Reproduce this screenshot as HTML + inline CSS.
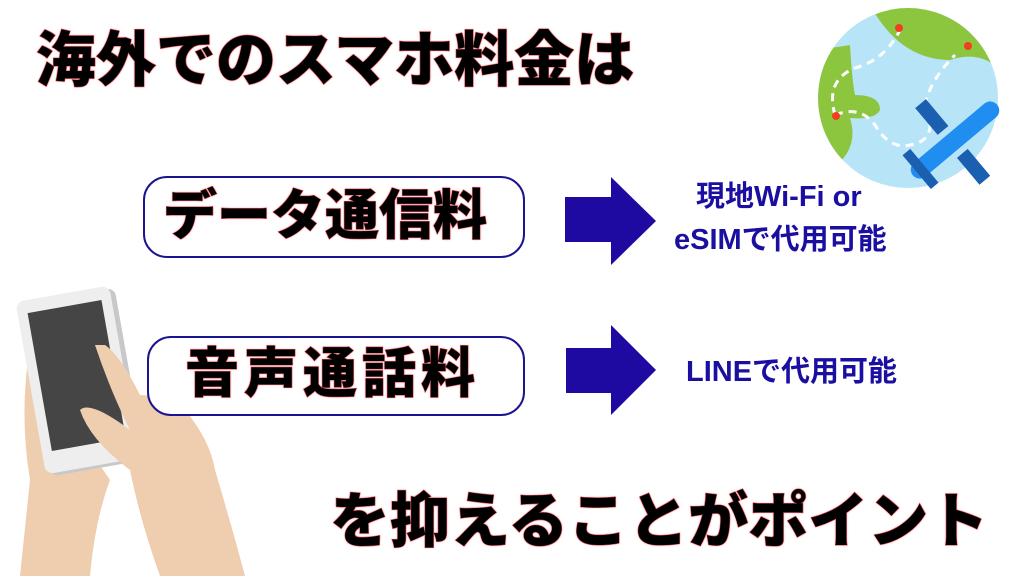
<!DOCTYPE html>
<html><head><meta charset="utf-8"><style>
body{margin:0;width:1024px;height:576px;background:#fff;position:relative;overflow:hidden;font-family:"Liberation Sans","Noto Sans CJK JP",sans-serif;}
.t{position:absolute;font-weight:900;color:#000;-webkit-text-stroke:1px #e03040;paint-order:stroke fill;text-shadow:0 0 2px #f08080;white-space:nowrap;}
.box{position:absolute;border:2px solid #1a1490;border-radius:24px;background:#fff;}
.b{position:absolute;color:#1a0fa0;font-weight:bold;font-size:29px;line-height:34px;white-space:nowrap;}
</style></head><body>
<div class="t" style="left:36px;top:26px;font-size:60px;line-height:70px;">海外でのスマホ料金は</div>
<svg style="position:absolute;left:0;top:0" width="1024" height="576">
<g>
<circle cx="908" cy="98" r="90" fill="#b8e4f8"/>
<clipPath id="c"><circle cx="908" cy="98" r="90"/></clipPath>
<g clip-path="url(#c)" fill="#8cc63f">
<path d="M870 5 Q900 60 950 60 Q980 50 1000 70 L1000 0 Z"/>
<path d="M818 50 L850 45 Q852 80 855 95 Q880 95 880 110 Q875 120 850 118 Q860 150 830 170 L818 170 Z"/>
</g>
<path d="M835 115 Q860 105 875 125 Q890 150 910 145 Q940 140 925 105 Q930 80 955 55" stroke="#fff" stroke-width="3" fill="none" stroke-dasharray="8 6"/>
<path d="M835 115 Q825 80 855 68 Q885 60 900 30" stroke="#fff" stroke-width="3" fill="none" stroke-dasharray="8 6"/>
<circle cx="836" cy="116" r="4" fill="#f04020"/><circle cx="899" cy="28" r="4" fill="#f04020"/><circle cx="968" cy="46" r="4" fill="#f04020"/>
<g transform="translate(955,140) rotate(-40)">
<rect x="-10" y="-50" width="14" height="35" fill="#1a5fb0"/>
<rect x="-10" y="15" width="14" height="35" fill="#1a5fb0"/>
<rect x="-55" y="-9" width="110" height="18" rx="9" fill="#1f8ef0"/>
<rect x="-50" y="-22" width="10" height="44" fill="#1a5fb0"/>
</g>
</g>
<polygon points="565,197 611,197 611,177 656,221 611,265 611,242 565,242" fill="#1e0aa0"/>
<polygon points="566,348 611,348 611,325 656,370 611,415 611,393 566,393" fill="#1e0aa0"/>
<path d="M28 360 Q20 420 30 480 L20 576 L90 576 Q95 520 110 480 Z" fill="#efcdaf"/>
<g transform="rotate(-10 80 380)">
<rect x="35" y="295" width="95" height="175" rx="8" fill="#c8c8c8"/>
<rect x="30" y="292" width="95" height="175" rx="8" fill="#eeeeee"/>
<rect x="40" y="305" width="75" height="140" fill="#454545"/>
</g>
<path d="M95 345 Q110 390 130 430 Q90 400 80 410 Q90 440 130 470 Q140 520 160 576 L245 576 Q230 520 215 470 Q210 440 185 410 Q160 395 140 395 Q120 355 105 345 Z" fill="#efcdaf"/>
</svg>
<div class="box" style="left:143px;top:176px;width:378px;height:78px;"></div>
<div class="t" style="left:163px;top:184px;font-size:54px;line-height:64px;">データ通信料</div>
<div class="box" style="left:147px;top:336px;width:374px;height:76px;"></div>
<div class="t" style="left:185px;top:342px;font-size:54px;line-height:64px;letter-spacing:5px;">音声通話料</div>
<div class="b" style="left:696px;top:180px;">現地Wi-Fi or</div>
<div class="b" style="left:674px;top:223px;">eSIMで代用可能</div>
<div class="b" style="left:686px;top:355px;">LINEで代用可能</div>
<div class="t" style="left:330px;top:487px;font-size:60px;line-height:70px;">を抑えることがポイント</div>
</body></html>
